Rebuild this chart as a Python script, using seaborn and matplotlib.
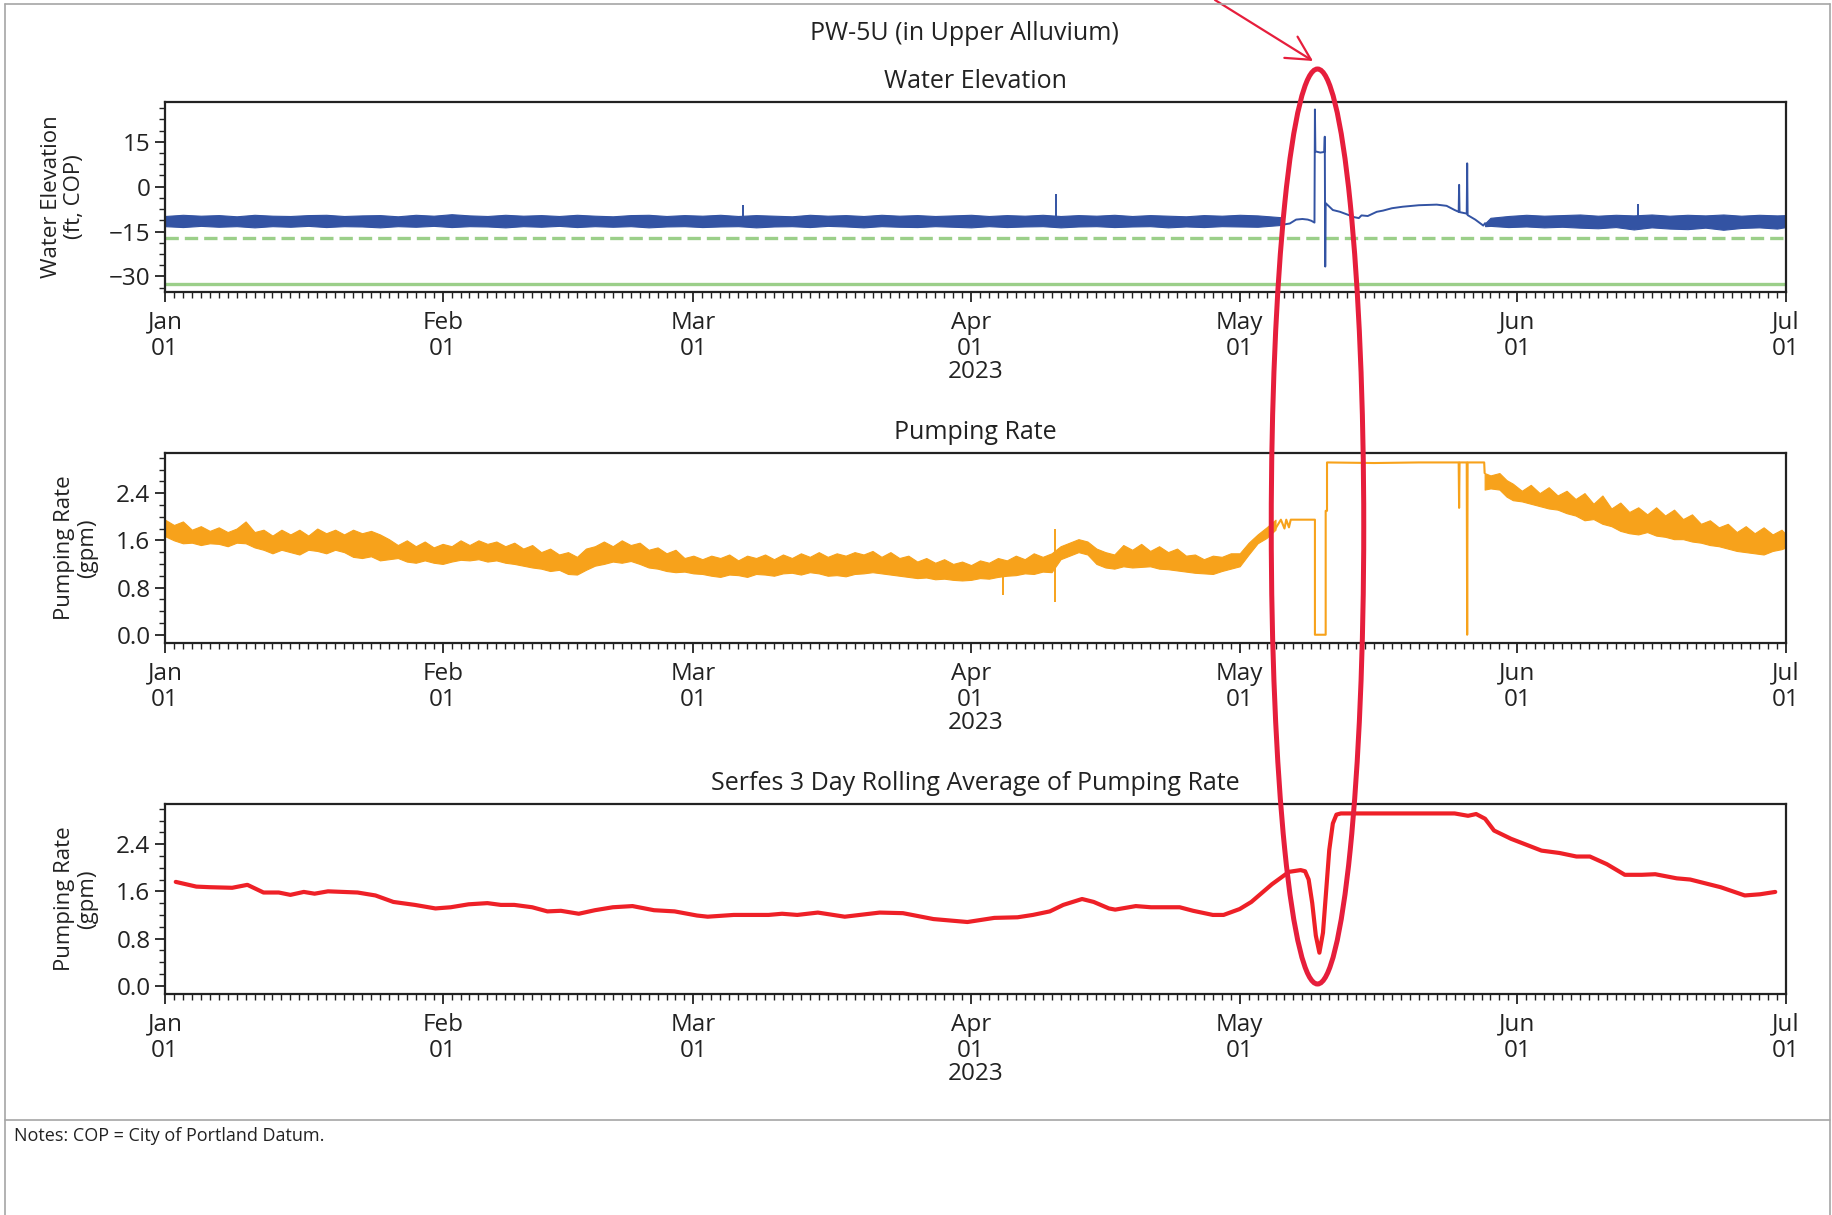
import pandas as pd
import seaborn as sns
import matplotlib.pyplot as plt
import matplotlib.dates as mdates
from matplotlib.ticker import AutoMinorLocator, MultipleLocator
from matplotlib.patches import Ellipse, FancyArrowPatch
from matplotlib.lines import Line2D

START = pd.Timestamp('2023-01-01')
END = pd.Timestamp('2023-07-01')

BLUE = '#3353a3'
ORANGE = '#f7a21b'
GREEN = '#9bcf89'
RED = '#ee2027'
MARK_RED = '#e61e3c'
INK = '#222222'

# ---------------- water elevation (ft, COP) ----------------
# logger noise band, upper / lower edge (days since Jan 1)
wl_band1_days = [0, 2, 4, 6, 8, 10, 12, 14, 16, 18, 20, 22, 24, 26, 28, 30, 32, 34, 36, 38,
                 40, 42, 44, 46, 48, 50, 52, 54, 56, 58, 60, 62, 64, 66, 68, 70, 72, 74, 76, 78,
                 80, 82, 84, 86, 88, 90, 92, 94, 96, 98, 100, 102, 104, 106, 108, 110, 112, 114,
                 116, 118, 120, 122, 124.6]
wl_band1_hi = [-9.8, -9.4, -9.7, -9.5, -9.9, -9.4, -9.7, -9.8, -9.5, -9.4, -9.8, -9.6, -9.5, -9.9,
               -9.4, -9.7, -9.2, -9.6, -9.8, -9.4, -9.7, -9.5, -9.8, -9.4, -9.7, -9.9, -9.5, -9.4,
               -9.8, -9.5, -9.7, -9.4, -9.8, -9.5, -9.7, -9.9, -9.4, -9.7, -9.5, -9.8, -9.4, -9.7,
               -9.5, -9.8, -9.6, -9.4, -9.8, -9.5, -9.7, -9.4, -9.8, -9.5, -9.7, -9.4, -9.8, -9.5,
               -9.7, -9.9, -9.5, -9.7, -9.4, -9.6, -10.2]
wl_band1_lo = [-13.2, -13.5, -13.1, -13.4, -13.2, -13.6, -13.2, -13.4, -13.1, -13.5, -13.2, -13.3,
               -13.6, -13.2, -13.4, -13.1, -13.5, -13.2, -13.3, -13.6, -13.2, -13.4, -13.1, -13.5,
               -13.2, -13.4, -13.2, -13.6, -13.3, -13.2, -13.5, -13.3, -13.2, -13.6, -13.3, -13.2,
               -13.5, -13.1, -13.3, -13.6, -13.2, -13.4, -13.5, -13.2, -13.4, -13.6, -13.2, -13.5,
               -13.3, -13.2, -13.6, -13.3, -13.2, -13.5, -13.3, -13.2, -13.6, -13.3, -13.5, -13.2,
               -13.3, -13.4, -12.8]
wl_band2_days = [147.4, 148, 150, 152, 154, 156, 158, 160, 162, 164, 166, 168, 170, 172, 174, 176,
                 178, 180, 181]
wl_band2_hi = [-12.2, -10.4, -9.8, -9.4, -9.7, -9.5, -9.3, -9.7, -9.4, -9.6, -9.3, -9.7, -9.4,
               -9.6, -9.3, -9.7, -9.4, -9.6, -9.5]
wl_band2_lo = [-13.2, -13.1, -13.5, -13.3, -13.6, -13.4, -13.7, -13.9, -13.5, -14.3, -13.6, -14.0,
               -14.2, -13.7, -14.4, -13.8, -13.6, -14.0, -13.5]

# single trace through the May disturbance
wl_trace_days = [124.6, 125.0, 125.6, 126.3, 127.0, 127.6, 128.0, 128.35, 128.4, 128.45, 129.0,
                 129.45, 129.5, 129.55, 129.6, 130.4, 131.2, 132.1, 132.8, 133.3, 133.6, 134.3,
                 135.3, 136.0, 137.0, 138.2, 140.0, 142.0, 143.1, 144.0, 144.45, 144.5, 144.55,
                 145.35, 145.4, 145.45, 146.3, 147.2, 147.4]
wl_trace_vals = [-11.8, -12.6, -12.3, -11.0, -10.8, -11.0, -11.4, -12.0, 25.8, 11.8, 11.4,
                 11.6, 16.7, -26.7, -5.5, -7.8, -8.4, -9.4, -10.2, -10.5, -9.6, -9.8,
                 -8.4, -8.0, -7.2, -6.7, -6.2, -6.0, -6.4, -7.8, -8.4, 0.6, -8.5,
                 -9.0, 7.8, -9.5, -11.0, -13.0, -12.2]

# isolated spikes sticking out of the band
wl_spike_days = [64.5, 99.5, 164.5]
wl_spike_tops = [-6.1, -2.4, -5.8]

wl_dashed_level = -17.2
wl_solid_level = -32.4

# ---------------- pumping rate (gpm) ----------------
# daily high / low of the pumping signal
pr_band1_days = list(range(0, 125))
pr_band1_hi = [1.95, 1.86, 1.92, 1.78, 1.84, 1.76, 1.82, 1.74, 1.80, 1.92,
               1.74, 1.78, 1.68, 1.78, 1.70, 1.78, 1.68, 1.80, 1.72, 1.78,
               1.70, 1.78, 1.72, 1.76, 1.70, 1.62, 1.52, 1.60, 1.50, 1.58,
               1.48, 1.54, 1.50, 1.60, 1.52, 1.60, 1.54, 1.58, 1.50, 1.56,
               1.46, 1.52, 1.40, 1.46, 1.36, 1.40, 1.32, 1.46, 1.50, 1.58,
               1.50, 1.60, 1.52, 1.56, 1.44, 1.48, 1.38, 1.44, 1.30, 1.34,
               1.28, 1.34, 1.30, 1.36, 1.26, 1.34, 1.30, 1.36, 1.28, 1.36,
               1.30, 1.38, 1.32, 1.40, 1.32, 1.38, 1.34, 1.40, 1.36, 1.42,
               1.32, 1.40, 1.30, 1.34, 1.24, 1.30, 1.22, 1.28, 1.20, 1.24,
               1.18, 1.26, 1.22, 1.30, 1.26, 1.34, 1.28, 1.38, 1.32, 1.38,
               1.50, 1.56, 1.62, 1.58, 1.46, 1.40, 1.36, 1.52, 1.44, 1.54,
               1.42, 1.50, 1.40, 1.46, 1.34, 1.36, 1.28, 1.34, 1.32, 1.38,
               1.38, 1.56, 1.70, 1.82, 1.95]
pr_band1_lo = [1.67, 1.60, 1.55, 1.56, 1.52, 1.55, 1.54, 1.50, 1.56, 1.55,
               1.48, 1.44, 1.38, 1.44, 1.40, 1.36, 1.44, 1.42, 1.38, 1.44,
               1.40, 1.32, 1.30, 1.33, 1.26, 1.28, 1.30, 1.24, 1.22, 1.26,
               1.22, 1.20, 1.24, 1.27, 1.26, 1.28, 1.24, 1.26, 1.22, 1.20,
               1.17, 1.14, 1.12, 1.08, 1.10, 1.03, 1.02, 1.10, 1.17, 1.20,
               1.24, 1.22, 1.25, 1.20, 1.14, 1.12, 1.08, 1.06, 1.07, 1.04,
               1.03, 1.00, 0.98, 1.02, 1.01, 0.98, 1.03, 1.02, 1.00, 1.04,
               1.05, 1.02, 1.06, 1.04, 1.00, 1.01, 0.99, 1.03, 1.04, 1.06,
               1.04, 1.02, 1.00, 0.98, 0.96, 0.97, 0.94, 0.95, 0.93, 0.92,
               0.93, 0.96, 0.95, 0.98, 1.00, 1.01, 1.04, 1.03, 1.07, 1.06,
               1.28, 1.34, 1.40, 1.36, 1.20, 1.14, 1.12, 1.16, 1.14, 1.15,
               1.16, 1.12, 1.11, 1.09, 1.07, 1.05, 1.04, 1.03, 1.08, 1.12,
               1.16, 1.36, 1.55, 1.64, 1.78]
pr_band2_days = [147.35, 148, 149, 149.8, 150.5, 151.5, 152.5, 153.5, 154.5, 155.5, 156.5,
                 157.5, 158.5, 159.5, 160.5, 161.5, 162.5, 163.5, 164.5, 165.5, 166.5, 167.5,
                 168.5, 169.5, 170.5, 171.5, 172.5, 173.5, 174.5, 175.5, 176.5, 177.5, 178.5,
                 179.5, 180.5, 181]
pr_band2_hi = [2.74, 2.70, 2.74, 2.62, 2.56, 2.44, 2.54, 2.40, 2.50, 2.36, 2.44, 2.30, 2.40,
               2.22, 2.36, 2.14, 2.24, 2.08, 2.16, 2.04, 2.16, 2.02, 2.12, 1.96, 2.04, 1.88,
               1.94, 1.82, 1.88, 1.74, 1.84, 1.72, 1.82, 1.70, 1.78, 1.70]
pr_band2_lo = [2.46, 2.48, 2.46, 2.34, 2.28, 2.26, 2.22, 2.18, 2.14, 2.12, 2.06, 2.02, 1.94,
               1.96, 1.88, 1.84, 1.76, 1.72, 1.70, 1.74, 1.68, 1.66, 1.62, 1.62, 1.58, 1.56,
               1.52, 1.50, 1.46, 1.42, 1.40, 1.38, 1.36, 1.42, 1.45, 1.48]

pr_trace_days = [124.0, 124.6, 125.0, 125.2, 125.5, 125.7, 128.4, 128.4, 129.6, 129.6, 129.75,
                 129.75, 135.0, 140.0, 144.45, 144.5, 144.55, 145.35, 145.4, 145.45, 147.3,
                 147.35]
pr_trace_vals = [1.80, 1.95, 1.80, 1.95, 1.82, 1.95, 1.95, 0.0, 0.0, 2.10, 2.10,
                 2.92, 2.91, 2.92, 2.92, 2.15, 2.92, 2.92, 0.0, 2.92, 2.92,
                 2.74]

pr_spike_days = [93.6, 99.4]
pr_spike_lo = [0.68, 0.56]
pr_spike_hi = [1.05, 1.80]

# ---------------- 3 day rolling average (gpm) ----------------
roll_days = [1.2, 3.5, 5, 7.5, 9.2, 11, 12.7, 14, 15.5, 16.7, 18.2, 21.5, 23.5, 25.5, 27.9,
             30.2, 31.9, 33.9, 36, 37.5, 39, 41, 42.7, 44.2, 46.2, 48, 50, 52.2, 54.6, 56.9,
             59.4, 60.6, 63.5, 67.4, 68.9, 70.6, 72.9, 75.9, 79.8, 82.4, 85.8, 89.6, 92.6,
             95.2, 96.9, 98.8, 100.3, 102.4, 103.7, 105.4, 106.1, 108.4, 110.1, 113.3, 114.8,
             117, 118.2, 120.0, 121.3, 123.6, 125.5, 126.8, 127.3, 127.7, 128.1, 128.5, 128.9,
             129.3, 129.6, 130.0, 130.4, 130.8, 131.3, 144, 145.5, 146.4, 147.4, 148.4, 150.3,
             153.7, 155.7, 157.6, 159.1, 161, 163, 164.9, 166.4, 168.8, 170.3, 173.7, 176.4,
             178.1, 179.8]
roll_vals = [1.76, 1.68, 1.67, 1.66, 1.71, 1.58, 1.58, 1.54, 1.59, 1.56, 1.60, 1.58, 1.53, 1.42,
             1.37, 1.31, 1.33, 1.38, 1.40, 1.37, 1.37, 1.33, 1.26, 1.27, 1.22, 1.28, 1.33, 1.35,
             1.28, 1.26, 1.19, 1.17, 1.20, 1.20, 1.22, 1.20, 1.24, 1.17, 1.24, 1.23, 1.13, 1.08,
             1.15, 1.16, 1.20, 1.26, 1.37, 1.47, 1.42, 1.31, 1.29, 1.35, 1.33, 1.33, 1.27,
             1.20, 1.20, 1.30, 1.42, 1.72, 1.93, 1.96, 1.94, 1.80, 1.40, 0.85, 0.56,
             0.90, 1.50, 2.30, 2.75, 2.90, 2.92, 2.92, 2.88, 2.91, 2.83, 2.63, 2.49,
             2.29, 2.25, 2.19, 2.19, 2.06, 1.88, 1.88, 1.89, 1.82, 1.80, 1.67, 1.53,
             1.55, 1.59]


def as_dates(days):
    return START + pd.to_timedelta(days, unit='D')


def style_axis(ax, title, ylabel, ylim, ystep, labelpad):
    ax.set_xlim(START, END)
    ax.set_ylim(*ylim)
    ax.yaxis.set_major_locator(MultipleLocator(ystep))
    ax.yaxis.set_minor_locator(AutoMinorLocator())
    ax.xaxis.set_major_locator(mdates.MonthLocator())
    ax.xaxis.set_minor_locator(mdates.DayLocator())
    ax.xaxis.set_major_formatter(mdates.DateFormatter('%b\n%d'))
    ax.tick_params(which='major', length=7, width=1.3, labelsize=17.5, color=INK,
                   labelcolor=INK)
    ax.tick_params(axis='x', which='major', pad=6.5)
    ax.tick_params(which='minor', length=4, width=1.0, color=INK)
    for sp in ax.spines.values():
        sp.set_visible(True)
        sp.set_linewidth(1.6)
        sp.set_color(INK)
    ax.set_title(title, fontsize=18, pad=10, color=INK)
    ax.set_ylabel(ylabel, fontsize=16, labelpad=labelpad, linespacing=1.15, color=INK)
    ax.set_xlabel('2023', fontsize=17.5, labelpad=-1, color=INK)
    for lab in ax.get_xticklabels():
        lab.set_linespacing(1.12)


sns.set_style('ticks')
plt.rcParams['font.family'] = ['Open Sans', 'DejaVu Sans']

fig = plt.figure(figsize=(18.33, 12.15), dpi=100)
W, H = 1833, 1215


def px_axes(left, top, right, bottom):
    return fig.add_axes([left / W, 1 - bottom / H, (right - left) / W, (bottom - top) / H])


ax1 = px_axes(165, 102, 1786, 292)
ax2 = px_axes(165, 453, 1786, 643)
ax3 = px_axes(165, 804, 1786, 994)

# water elevation
ax1.axhline(wl_dashed_level, color=GREEN, lw=2.4, ls=(0, (4, 1.8)))
ax1.axhline(wl_solid_level, color=GREEN, lw=2.4)
ax1.fill_between(as_dates(wl_band1_days), wl_band1_lo, wl_band1_hi, color=BLUE, lw=0.8)
ax1.fill_between(as_dates(wl_band2_days), wl_band2_lo, wl_band2_hi, color=BLUE, lw=0.8)
ax1.vlines(as_dates(wl_spike_days), -10.5, wl_spike_tops, color=BLUE, lw=1.4)
sns.lineplot(x=as_dates(wl_trace_days), y=wl_trace_vals, ax=ax1, color=BLUE, lw=1.4,
             estimator=None, sort=False)
style_axis(ax1, 'Water Elevation', 'Water Elevation\n(ft, COP)', (-35.2, 28.3), 15, 17)

# pumping rate
ax2.fill_between(as_dates(pr_band1_days), pr_band1_lo, pr_band1_hi, color=ORANGE, lw=0.8)
ax2.fill_between(as_dates(pr_band2_days), pr_band2_lo, pr_band2_hi, color=ORANGE, lw=0.8)
ax2.vlines(as_dates(pr_spike_days), pr_spike_lo, pr_spike_hi, color=ORANGE, lw=1.4)
sns.lineplot(x=as_dates(pr_trace_days), y=pr_trace_vals, ax=ax2, color=ORANGE, lw=1.5,
             estimator=None, sort=False)
style_axis(ax2, 'Pumping Rate', 'Pumping Rate\n(gpm)', (-0.14, 3.08), 0.8, 13)

# rolling average
sns.lineplot(x=as_dates(roll_days), y=roll_vals, ax=ax3, color=RED, lw=3.0,
             estimator=None, sort=False)
style_axis(ax3, 'Serfes 3 Day Rolling Average of Pumping Rate', 'Pumping Rate\n(gpm)',
           (-0.14, 3.08), 0.8, 13)

fig.text(964 / W, 1 - 34 / H, 'PW-5U (in Upper Alluvium)', ha='center', va='center',
         fontsize=18, color=INK)
fig.text(14 / W, 1 - 1136 / H, 'Notes: COP = City of Portland Datum.', ha='left', va='center',
         fontsize=13, color=INK)

# page frame
frame = '#a6a6a6'
for (x0, y0, x1, y1) in [(5, 4, 1830, 4), (5, 4, 5, 1215), (1830, 4, 1830, 1215),
                         (5, 1120, 1830, 1120)]:
    fig.add_artist(Line2D([x0 / W, x1 / W], [1 - y0 / H, 1 - y1 / H], color=frame, lw=1.2,
                          transform=fig.transFigure))

# red call-out
fig.add_artist(Ellipse((1317.5 / W, 1 - 526.5 / H), 92.5 / W, 915 / H, transform=fig.transFigure,
                       fill=False, edgecolor=MARK_RED, lw=3.6))
fig.add_artist(FancyArrowPatch((1215 / W, 1 - 0 / H), (1313 / W, 1 - 61 / H),
                               transform=fig.transFigure, color=MARK_RED, lw=1.6,
                               arrowstyle='->,head_length=0.85,head_width=0.45',
                               mutation_scale=20, shrinkA=0, shrinkB=0))

fig.savefig('out.png', dpi=100)
